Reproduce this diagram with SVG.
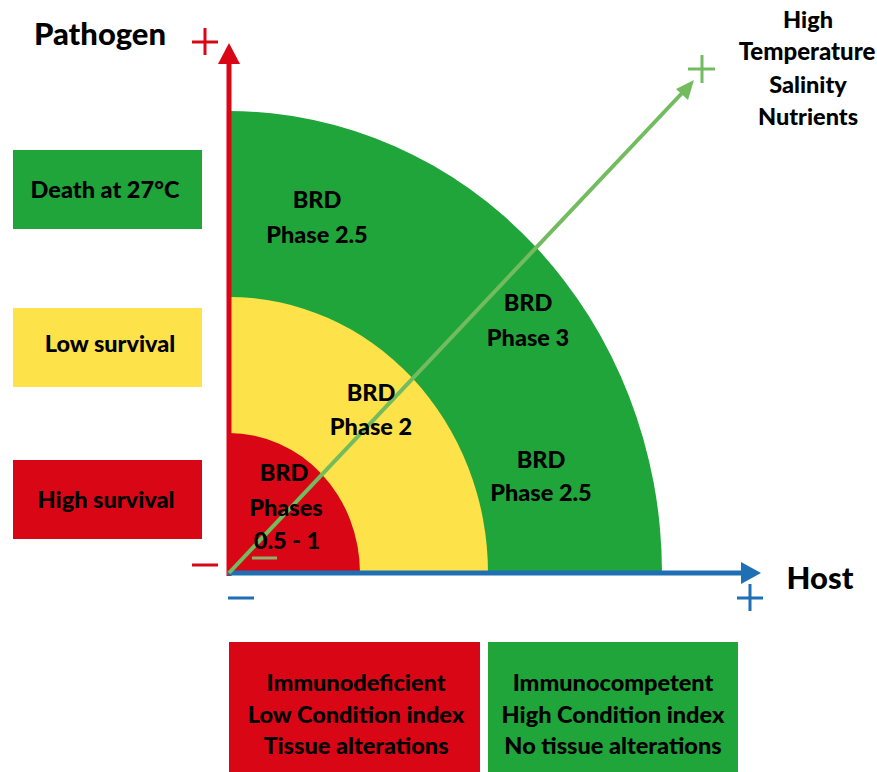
<svg xmlns="http://www.w3.org/2000/svg" width="877" height="772" viewBox="0 0 877 772">
<style>
text{font-family:Lato,"Open Sans","Liberation Sans",sans-serif;font-weight:900;fill:#000;text-anchor:middle}
.t22{font-size:23.5px}
.t28{font-size:31px}
.g{fill:#1fa53a}.y{fill:#fde24a}.r{fill:#d90616}
.sign{stroke-width:3;fill:none}
</style>
<rect width="877" height="772" fill="#fff"/>
<g id="zones">
<path class="g" d="M229,573 L229,111 A433,462 0 0 1 662,573 Z"/>
<path class="y" d="M229,573 L229,297 A259,276 0 0 1 488,573 Z"/>
<path class="r" d="M229,573 L229,433 A131,140 0 0 1 360,573 Z"/>
</g>
<g id="axes">
<line x1="229" y1="576" x2="229" y2="60" stroke="#d90616" stroke-width="5"/>
<polygon points="229,43 218,64 240,64" fill="#d90616"/>
<line x1="227" y1="573" x2="745" y2="573" stroke="#1f6fb5" stroke-width="5"/>
<polygon points="761,573 741,562 741,584" fill="#1f6fb5"/>
<line x1="229" y1="573" x2="684" y2="91" stroke="#72bc5f" stroke-width="4"/>
<polygon points="694,80 676,89 688,100" fill="#72bc5f"/>
<path class="sign" stroke="#d90616" d="M192,42 H218 M205,28 V55 M192,565 H218"/>
<path class="sign" stroke="#1f6fb5" d="M228,598 H254 M737,598 H763 M750,584 V611"/>
<path class="sign" stroke="#72bc5f" d="M688,69 H715 M702,55 V83"/>
<path class="sign" stroke="#8db06a" d="M252,558 H277"/>
</g>
<g id="labels">
<text class="t28" x="100" y="45">Pathogen</text>
<text class="t28" x="820" y="589">Host</text>
<text class="t22" x="808" y="28">High</text>
<text class="t22" x="807" y="60" style="font-size:24px">Temperature</text>
<text class="t22" x="808" y="93">Salinity</text>
<text class="t22" x="808" y="125">Nutrients</text>
</g>
<g id="zone-labels">
<text class="t22" x="317" y="208">BRD</text>
<text class="t22" x="317" y="243">Phase 2.5</text>
<text class="t22" x="528" y="311">BRD</text>
<text class="t22" x="528" y="346">Phase 3</text>
<text class="t22" x="371" y="401">BRD</text>
<text class="t22" x="371" y="435">Phase 2</text>
<text class="t22" x="541" y="468">BRD</text>
<text class="t22" x="541" y="501">Phase 2.5</text>
<text class="t22" x="284" y="481">BRD</text>
<text class="t22" x="286" y="516">Phases</text>
<text class="t22" x="287" y="549">0.5 - 1</text>
</g>
<g id="box-death">
<rect class="g" x="13" y="150" width="189" height="79"/>
<text class="t22" x="105" y="198">Death at 27°C</text>
</g>
<g id="box-low">
<rect class="y" x="13" y="308" width="189" height="79"/>
<text class="t22" x="110" y="352">Low survival</text>
</g>
<g id="box-high">
<rect class="r" x="13" y="460" width="189" height="79"/>
<text class="t22" x="106" y="508">High survival</text>
</g>
<g id="box-immunodeficient">
<rect class="r" x="229" y="642" width="251" height="130"/>
<text class="t22" x="356" y="691">Immunodeficient</text>
<text class="t22" x="356" y="723">Low Condition index</text>
<text class="t22" x="356" y="754">Tissue alterations</text>
</g>
<g id="box-immunocompetent">
<rect class="g" x="488" y="642" width="250" height="130"/>
<text class="t22" x="613" y="691">Immunocompetent</text>
<text class="t22" x="613" y="723">High Condition index</text>
<text class="t22" x="613" y="754">No tissue alterations</text>
</g>
</svg>
